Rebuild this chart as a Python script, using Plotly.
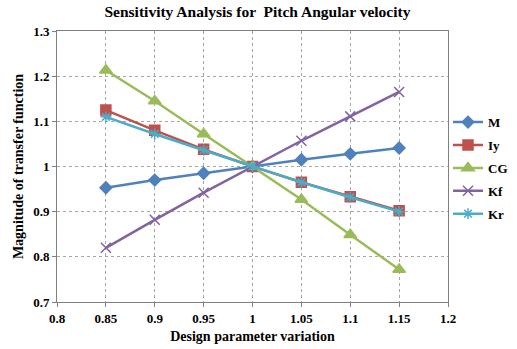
import plotly.graph_objects as go

x_vals = [0.85, 0.9, 0.95, 1.0, 1.05, 1.1, 1.15]
M = [0.953, 0.970, 0.985, 1.0, 1.015, 1.028, 1.041]
Iy = [1.125, 1.080, 1.038, 1.0, 0.965, 0.933, 0.902]
CG = [1.213, 1.145, 1.072, 1.0, 0.927, 0.849, 0.772]
Kf = [0.820, 0.882, 0.942, 1.0, 1.057, 1.111, 1.165]
Kr = [1.110, 1.072, 1.036, 1.0, 0.965, 0.932, 0.900]
names = ["M", "Iy", "CG", "Kf", "Kr"]
x_ticks = [0.8, 0.85, 0.9, 0.95, 1, 1.05, 1.1, 1.15, 1.2]
y_ticks = [0.7, 0.8, 0.9, 1, 1.1, 1.2, 1.3]

series = [M, Iy, CG, Kf, Kr]
colors = ["#4F81BD", "#C0504D", "#9BBB59", "#8064A2", "#4BACC6"]
symbols = ["diamond", "square", "triangle-up", "x-thin", "asterisk-open"]
sizes = [9, 10, 11, 10, 9]

fig = go.Figure()
for name, ys, c, s, sz in zip(names, series, colors, symbols, sizes):
    fig.add_trace(go.Scatter(
        x=x_vals, y=ys, name="<b>" + name + "</b>", legendgroup=name,
        mode="lines+markers",
        line=dict(color=c, width=2.5),
        marker=dict(symbol=s, size=sz, color=c, line=dict(color=c, width=1.5)),
    ))

font_fam = "Liberation Serif"
fig.update_layout(
    width=517, height=349,
    margin=dict(l=57, r=69, t=31, b=47, autoexpand=False),
    paper_bgcolor="white", plot_bgcolor="white",
    font=dict(family=font_fam, size=12, color="black"),
    title=dict(text="<b>Sensitivity Analysis for  Pitch Angular velocity</b>",
               x=0.498, xanchor="center", y=0.966, yanchor="middle",
               font=dict(family=font_fam, size=15.5)),
    legend=dict(x=1.0, xanchor="left", y=0.494, yanchor="middle",
                font=dict(family=font_fam, size=13), tracegroupgap=3, itemwidth=30,
                bgcolor="rgba(0,0,0,0)"),
    showlegend=True,
)
fig.update_xaxes(
    range=[0.8, 1.2], tickvals=x_ticks, ticktext=["<b>%g</b>" % v for v in x_ticks],
    tickfont=dict(family=font_fam, size=13),
    showgrid=True, gridcolor="#a6a6a6", griddash="dot", gridwidth=1,
    showline=True, linecolor="#808080", linewidth=1, mirror=True,
    ticks="outside", ticklen=4, tickcolor="#808080", automargin=False,
    title=dict(text="<b>Design parameter variation</b>", font=dict(family=font_fam, size=14), standoff=6),
    zeroline=False,
)
fig.update_yaxes(
    range=[0.7, 1.3], tickvals=y_ticks, ticktext=["<b>%g</b>" % v for v in y_ticks],
    tickfont=dict(family=font_fam, size=13),
    showgrid=True, gridcolor="#a6a6a6", griddash="dot", gridwidth=1,
    showline=True, linecolor="#808080", linewidth=1, mirror=True,
    ticks="outside", ticklen=4, tickcolor="#808080", automargin=False,
    title=dict(text="<b>Magnitude of transfer function</b>", font=dict(family=font_fam, size=14), standoff=6),
    zeroline=False,
)
fig.write_html("out.html", config={"displayModeBar": False},
               post_script="document.body.style.margin='0';document.body.style.overflow='hidden';")
